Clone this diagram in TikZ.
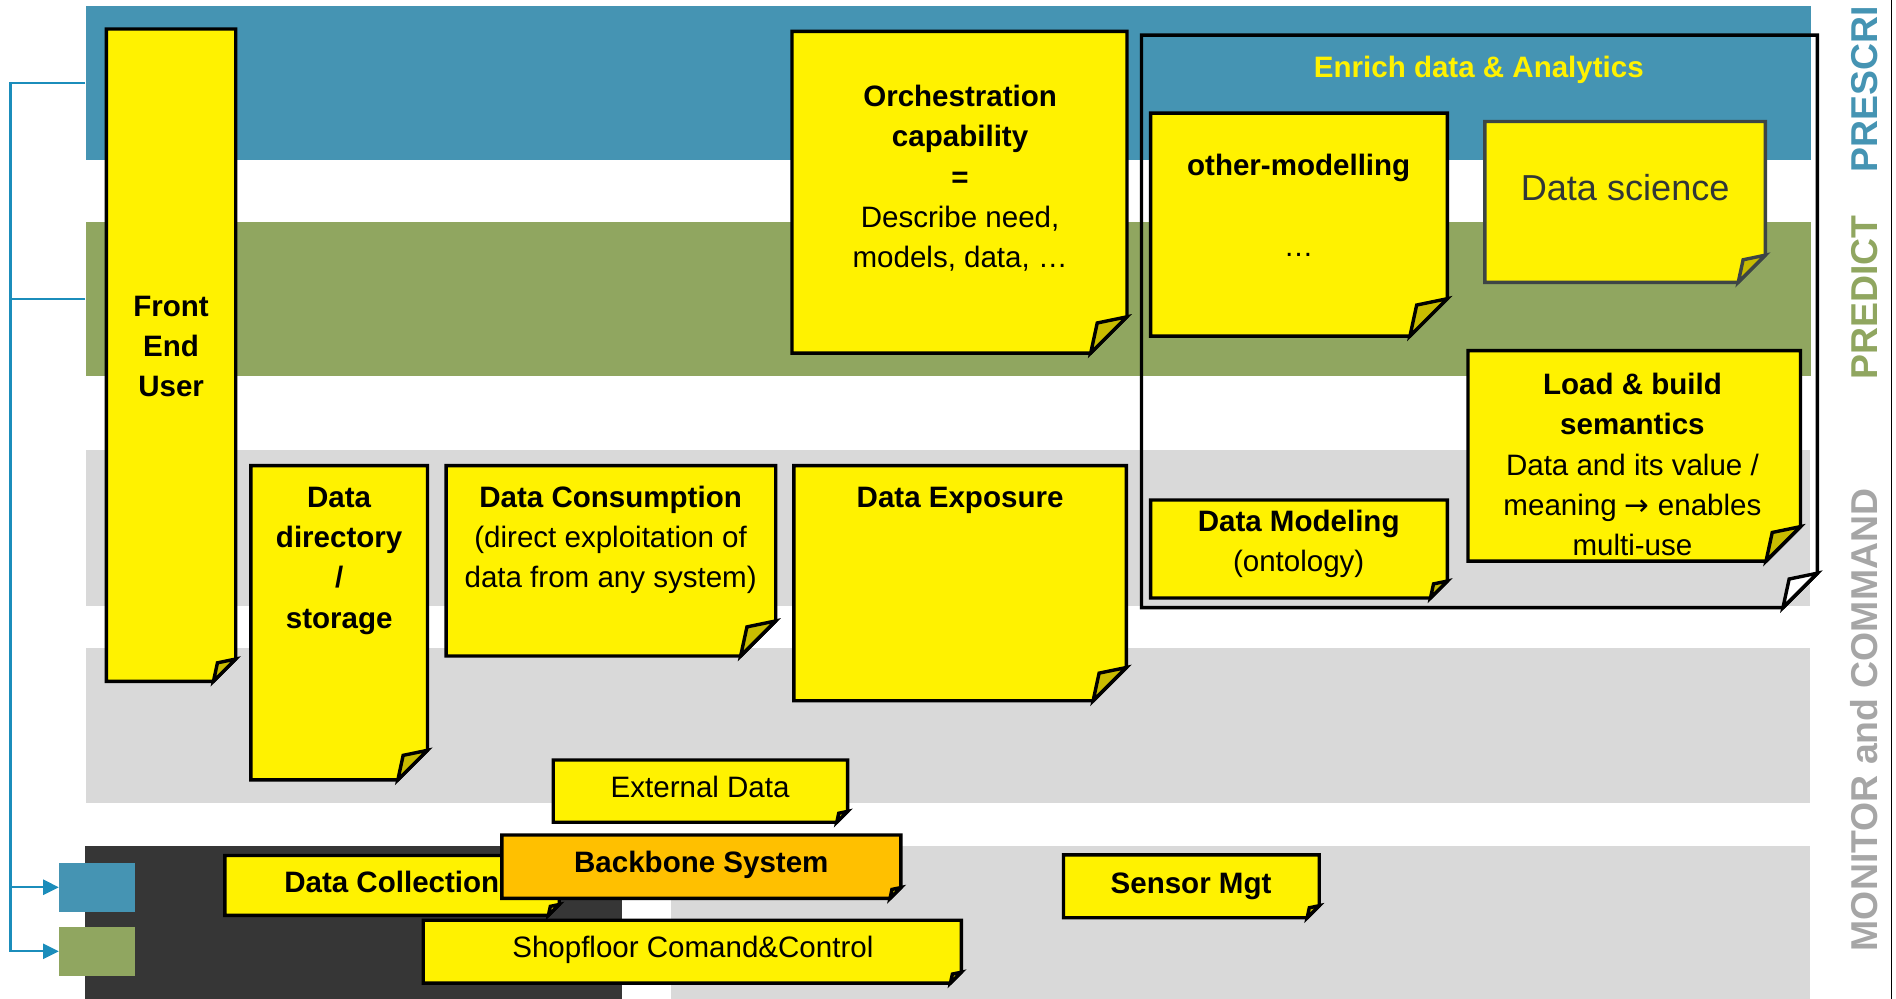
\documentclass[tikz,border=0pt]{standalone}
\usepackage{fontspec}
\setmainfont{Liberation Sans}
\newfontfamily\arrowfont{DejaVu Sans}
\usetikzlibrary{arrows.meta,fit}

\definecolor{bandblue}{HTML}{4594B3}
\definecolor{bandgreen}{HTML}{90A660}
\definecolor{bandgray}{HTML}{D9D9D9}
\definecolor{banddark}{HTML}{363636}
\definecolor{noteyellow}{HTML}{FFF200}
\definecolor{flapyellow}{HTML}{C9BC00}
\definecolor{backorange}{HTML}{FFC000}
\definecolor{linkblue}{HTML}{1B8DBB}
\definecolor{labelgray}{HTML}{A6A6A6}
\definecolor{slate}{HTML}{3D4545}

% note with folded corner: style, fold style, x1, y1, x2, y2, fold size
\newcommand{\postit}[7]{%
  \draw[#1] (#3,#4) -- (#5,#4) -- (#5,#6-#7) -- (#5-#7,#6) -- (#3,#6) -- cycle;
  \draw[#2] (#5-#7,#6) -- (#5-0.82*#7,#6-0.83*#7) -- (#5,#6-#7) -- cycle;}

\begin{document}
\begin{tikzpicture}[x=0.02cm,y=-0.02cm,
  band/.style={inner sep=0pt,draw=none},
  note/.style={draw=black,line width=1.6pt,fill=noteyellow},
  frame/.style={draw=black,line width=1.6pt},
  fold/.style={draw=black,line width=1.6pt,fill=flapyellow},
  txt/.style={align=center,inner sep=0pt,font=\fontsize{13.9}{19}\selectfont,
    execute at begin node=\strut,execute at end node=\strut},
  txtb/.style={txt,font=\bfseries\fontsize{13.9}{19}\selectfont},
  lbl/.style={rotate=90,anchor=base west,inner sep=0pt,font=\bfseries\fontsize{17.6}{20}\selectfont},
  link/.style={linkblue,line width=1pt,-{Triangle[length=0.26cm,width=0.25cm]}}]

\useasboundingbox (0,0) rectangle (1568,826);

% bands
\node[band,fill=bandblue,fit={(71,5) (1498,132.5)}] (bandpre) {};
\node[band,fill=bandgreen,fit={(71,183.4) (1498,311)}] (bandpred) {};
\node[band,fill=bandgray,fit={(71,372) (1497,501.5)}] (bandmon) {};
\node[band,fill=bandgray,fit={(71,535.5) (1497,664)}] (bandctl) {};
\node[band,fill=banddark,fit={(70.5,699.5) (514,826)}] (banddark) {};
\node[band,fill=bandgray,fit={(555,699.5) (1497,826)}] (bandlow) {};

\draw[line width=0.6pt] (1564.5,0) -- (1564.5,826);
\node[lbl,text=bandblue] (lblpre) at (1552.5,143) {PRESCRI};
\node[lbl,text=bandgreen] (lblpred) at (1552.5,314) {PREDICT};
\node[lbl,text=labelgray] (lblmon) at (1552.5,787) {MONITOR and COMMAND};

\node[band,fill=bandblue,fit={(49,713.5) (112,754)}] (sqblue) {};
\node[band,fill=bandgreen,fit={(49,766.5) (112,807)}] (sqgreen) {};
\draw[link] (bandpre.west) -- ++(-62,0) |- (sqblue.west);
\draw[link] (bandpred.west) -- ++(-62,0) |- (sqgreen.west);

% upper notes
\postit{note}{fold}{88}{24}{195}{563.5}{18.5}
\node[txtb] (front) at (141.5,291.5) {Front\\End\\User};

\postit{note}{fold}{207.5}{385}{353.5}{645}{24.5}
\node[txtb] (dirstore) at (280.5,466) {Data\\directory\\/\\storage};

\postit{note}{fold}{369}{385}{641.5}{542.5}{29}
\node[txt] (consume) at (505,449) {\textbf{Data Consumption}\\(direct exploitation of\\data from any system)};

\postit{note}{fold}{656.5}{385}{931.5}{579.5}{27.5}
\node[txtb] (expose) at (794,413) {Data Exposure};

\postit{note}{fold}{655}{26}{932}{292}{30}
\node[txt] (orch) at (794,151) {\textbf{Orchestration}\\\textbf{capability}\\\textbf{=}\\Describe need,\\models, data, …};

\postit{frame}{fold,fill=white}{944}{29}{1503}{502.5}{28.5}
\node[txtb,text=yellow] (enrich) at (1223,57) {Enrich data \& Analytics};

\postit{note}{fold}{951.5}{93.5}{1197}{278}{31}
\node[txt] (othermod) at (1074,175) {\textbf{other-modelling}\\ \\…};

\postit{note,draw=slate,fill=yellow}{fold,draw=slate}{1228}{100.5}{1460}{233.5}{22.5}
\node[txt,font=\fontsize{17}{20.4}\selectfont,text=slate!80!black] (datasci) at (1344,159) {Data science};

\postit{note}{fold}{1214}{290}{1489}{464}{28.5}
\node[txt] (loadsem) at (1350,389) {\textbf{Load \& build}\\\textbf{semantics}\\Data and its value /\\meaning {\arrowfont →} enables\\multi-use};

\postit{note}{fold}{951.5}{413.5}{1197}{494.5}{14}
\node[txt] (datamod) at (1074,452.5) {\textbf{Data Modeling}\\(ontology)};

% lower notes
\postit{note}{fold}{457.5}{628.5}{701}{680}{9}
\node[txt] (extdata) at (579,653) {External Data};

\postit{note}{fold}{186}{707.5}{462.5}{757}{9}
\node[txtb] (collect) at (324,731) {Data Collection};

\postit{note,fill=backorange}{fold}{415}{690.5}{745}{743}{9}
\node[txtb] (backbone) at (580,715) {Backbone System};

\postit{note}{fold}{350}{761}{795}{813}{9}
\node[txt] (shopfloor) at (573,785) {Shopfloor Comand\&Control};

\postit{note}{fold}{879.5}{707}{1091}{759}{10}
\node[txtb] (sensor) at (985,732) {Sensor Mgt};
\end{tikzpicture}
\end{document}
